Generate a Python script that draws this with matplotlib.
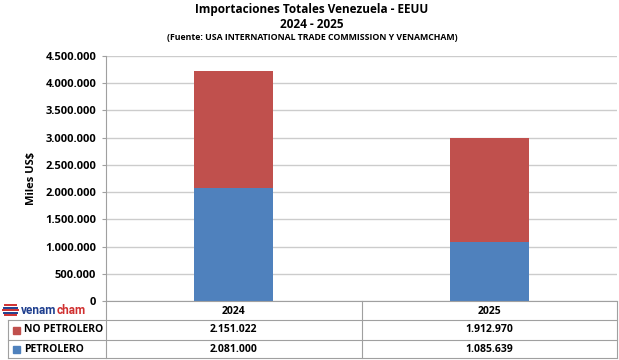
import matplotlib.pyplot as plt
import numpy as np
from matplotlib.lines import Line2D
from matplotlib.patches import Rectangle

plt.rcParams['font.family'] = ['Open Sans', 'DejaVu Sans']

years = ['2024', '2025']
no_petrolero = [2151022, 1912970]
petrolero = [2081000, 1085639]
yticks = np.arange(0, 4500001, 500000)

c_red = '#C0504D'
c_blue = '#4F81BD'
c_grid = '#CCCCCC'

def fmt(v):
    return '{:,}'.format(int(v)).replace(',', '.')

fig = plt.figure(figsize=(6.19, 3.6), dpi=100)
W, H = 619.0, 360.0
L, R, T, B = 106, 617, 56, 301
ax = fig.add_axes([L / W, 1 - B / H, (R - L) / W, (B - T) / H])

x = np.arange(len(years))
ax.bar(x, petrolero, width=0.31, color=c_blue, zorder=3)
ax.bar(x, no_petrolero, width=0.31, bottom=petrolero, color=c_red, zorder=3)

ax.set_xlim(-0.5, len(years) - 0.5)
ax.set_ylim(0, 4500000)
ax.set_yticks(yticks)
ax.set_yticklabels([fmt(v) for v in yticks], fontsize=8, fontweight='bold')
ax.set_xticks([])
ax.grid(axis='y', color=c_grid, lw=1, zorder=0)
for s in ['top', 'right', 'bottom']:
    ax.spines[s].set_visible(False)
ax.spines['left'].set_color('#A0A0A0')
ax.tick_params(axis='y', length=3, color='#A0A0A0', pad=4)
ax.set_ylabel('Miles US$', fontsize=8, fontweight='bold', labelpad=6)

# titles
fig.text(312 / W, 1 - 9 / H, 'Importaciones Totales Venezuela - EEUU', ha='center', va='center',
         fontsize=8.5, fontweight='bold')
fig.text(312 / W, 1 - 24 / H, '2024 - 2025', ha='center', va='center', fontsize=8.5, fontweight='bold')
fig.text(312 / W, 1 - 38 / H, '(Fuente: USA INTERNATIONAL TRADE COMMISSION Y VENAMCHAM)', ha='center',
         va='center', fontsize=6.3, fontweight='bold')

# data table below the chart
lc = '#A0A0A0'
def hline(y, x0, x1, col=lc, lw=0.8):
    fig.add_artist(Line2D([x0 / W, x1 / W], [1 - y / H, 1 - y / H], color=col, lw=lw))
def vline(xp, y0, y1):
    fig.add_artist(Line2D([xp / W, xp / W], [1 - y0 / H, 1 - y1 / H], color=lc, lw=0.8))

hline(301, L, R)
hline(320, 8, R)
hline(340, 8, R)
hline(358, 8, R)
vline(L, 301, 358)
vline(362, 301, 358)
vline(R, 301, 358)
vline(8, 320, 358)

centers = [L + (R - L) * (i + 0.5) / len(years) for i in range(len(years))]
for i, yr in enumerate(years):
    fig.text(centers[i] / W, 1 - 311 / H, yr, ha='center', va='center', fontsize=7.5, fontweight='bold')
    fig.text(centers[i] / W, 1 - 330 / H, fmt(no_petrolero[i]), ha='center', va='center',
             fontsize=7.5, fontweight='bold')
    fig.text(centers[i] / W, 1 - 349.5 / H, fmt(petrolero[i]), ha='center', va='center',
             fontsize=7.5, fontweight='bold')

for name, col, yc in [('NO PETROLERO', c_red, 330), ('PETROLERO', c_blue, 349.5)]:
    fig.add_artist(Rectangle((13 / W, 1 - (yc + 3.5) / H), 7 / W, 7 / H, color=col))
    fig.text(24 / W, 1 - yc / H, name, ha='left', va='center', fontsize=7.5, fontweight='bold')

# logo: striped swirl + wordmark
for k, yy in enumerate([305, 307.5, 310, 312.5, 315]):
    hline(yy, 3 + abs(k - 2), 18 - abs(k - 2), col='#D03030' if k % 2 == 0 else '#1F3F8F', lw=1.4)
t1 = fig.text(21 / W, 1 - 311 / H, 'venam', ha='left', va='center', fontsize=8.5, fontweight='bold',
              color='#1F3F8F', family='Roboto')
fig.canvas.draw()
bb = t1.get_window_extent()
fig.text(bb.x1 / W, 1 - 311 / H, 'cham', ha='left', va='center', fontsize=8.5, fontweight='bold',
         color='#D03030', family='Roboto')

fig.savefig('out.png', dpi=100)
